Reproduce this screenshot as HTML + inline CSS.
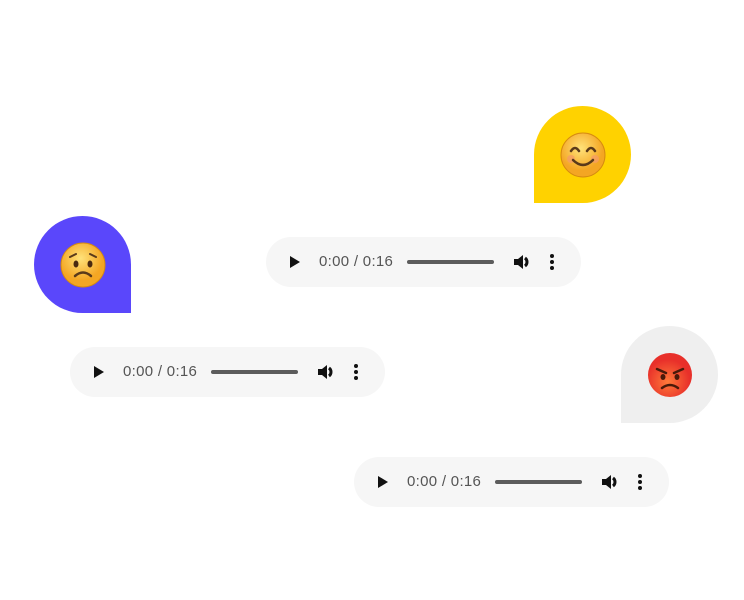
<!DOCTYPE html>
<html><head><style>
body{margin:0;width:744px;height:600px;background:#fff;position:relative;overflow:hidden;font-family:"Liberation Sans",sans-serif}
.b{position:absolute;width:97px;height:97px;border-radius:50%}
.p{position:absolute;width:315px;height:50px;border-radius:25px;background:#f6f6f6}
.p .play{position:absolute;left:24px;top:19px;width:0;height:0;border-left:10px solid #111;border-top:6px solid transparent;border-bottom:6px solid transparent}
.p .t{position:absolute;left:53px;top:16px;font-size:15px;letter-spacing:0.3px;color:#555}
.p .bar{position:absolute;left:141px;top:23px;width:87px;height:4px;border-radius:2px;background:#5c5c5c}
.p svg{position:absolute}
.e{position:absolute;left:26px;top:26px}
</style></head><body>
<div class="b" style="left:534px;top:106px;background:#ffd200;border-bottom-left-radius:0">
<svg class="e" width="46" height="46" viewBox="0 0 46 46"><defs><radialGradient id="g1" cx="45%" cy="35%"><stop offset="0" stop-color="#ffe27a"/><stop offset="1" stop-color="#f4a623"/></radialGradient></defs><circle cx="23" cy="23" r="22" fill="url(#g1)" stroke="#d68a10" stroke-width="1"/><circle cx="11" cy="27" r="4" fill="#f59a6a" opacity=".7"/><circle cx="35" cy="27" r="4" fill="#f59a6a" opacity=".7"/><path d="M11 19 q4-6 8 0 M27 19 q4-6 8 0" stroke="#5a3a1a" stroke-width="2.5" fill="none" stroke-linecap="round"/><path d="M13 28 q10 10 20 0" stroke="#5a3a1a" stroke-width="2.5" fill="none" stroke-linecap="round"/></svg></div>
<div class="b" style="left:34px;top:216px;background:#5a47fb;border-bottom-right-radius:0">
<svg class="e" width="46" height="46" viewBox="0 0 46 46"><defs><radialGradient id="g2" cx="45%" cy="35%"><stop offset="0" stop-color="#ffe27a"/><stop offset="1" stop-color="#f4a623"/></radialGradient></defs><circle cx="23" cy="23" r="22" fill="url(#g2)" stroke="#d68a10" stroke-width="1"/><ellipse cx="16" cy="22" rx="2.5" ry="3.5" fill="#4a2a10"/><ellipse cx="30" cy="22" rx="2.5" ry="3.5" fill="#4a2a10"/><path d="M10 15 l6-3 M36 15 l-6-3" stroke="#5a3a1a" stroke-width="2" stroke-linecap="round"/><path d="M15 34 q8-7 16 0" stroke="#5a3a1a" stroke-width="2.5" fill="none" stroke-linecap="round"/></svg></div>
<div class="b" style="left:621px;top:326px;background:#efefef;border-bottom-left-radius:0">
<svg class="e" width="46" height="46" viewBox="0 0 46 46"><defs><radialGradient id="g3" cx="45%" cy="65%"><stop offset="0" stop-color="#ff7a3a"/><stop offset="1" stop-color="#e8302a"/></radialGradient></defs><circle cx="23" cy="23" r="22" fill="url(#g3)"/><path d="M10 17 l9 4 M36 17 l-9 4" stroke="#4a1a0a" stroke-width="2.5" stroke-linecap="round"/><ellipse cx="16" cy="25" rx="2.5" ry="3" fill="#4a1a0a"/><ellipse cx="30" cy="25" rx="2.5" ry="3" fill="#4a1a0a"/><path d="M15 36 q8-6 16 0" stroke="#4a1a0a" stroke-width="2.5" fill="none" stroke-linecap="round"/></svg></div>

<div class="p" style="left:266px;top:237px"><div class="play"></div><div class="t">0:00 / 0:16</div><div class="bar"></div>
<svg style="left:247px;top:16px" width="18" height="18" viewBox="0 0 18 18"><path d="M1 6h4l5-4v14l-5-4H1z" fill="#111"/><path d="M12 5a5 5 0 0 1 0 8" stroke="#111" stroke-width="3" fill="none"/></svg>
<svg style="left:283px;top:15px" width="6" height="20"><circle cx="3" cy="4" r="2" fill="#111"/><circle cx="3" cy="10" r="2" fill="#111"/><circle cx="3" cy="16" r="2" fill="#111"/></svg></div>
<div class="p" style="left:70px;top:347px"><div class="play"></div><div class="t">0:00 / 0:16</div><div class="bar"></div>
<svg style="left:247px;top:16px" width="18" height="18" viewBox="0 0 18 18"><path d="M1 6h4l5-4v14l-5-4H1z" fill="#111"/><path d="M12 5a5 5 0 0 1 0 8" stroke="#111" stroke-width="3" fill="none"/></svg>
<svg style="left:283px;top:15px" width="6" height="20"><circle cx="3" cy="4" r="2" fill="#111"/><circle cx="3" cy="10" r="2" fill="#111"/><circle cx="3" cy="16" r="2" fill="#111"/></svg></div>
<div class="p" style="left:354px;top:457px"><div class="play"></div><div class="t">0:00 / 0:16</div><div class="bar"></div>
<svg style="left:247px;top:16px" width="18" height="18" viewBox="0 0 18 18"><path d="M1 6h4l5-4v14l-5-4H1z" fill="#111"/><path d="M12 5a5 5 0 0 1 0 8" stroke="#111" stroke-width="3" fill="none"/></svg>
<svg style="left:283px;top:15px" width="6" height="20"><circle cx="3" cy="4" r="2" fill="#111"/><circle cx="3" cy="10" r="2" fill="#111"/><circle cx="3" cy="16" r="2" fill="#111"/></svg></div>
</body></html>
